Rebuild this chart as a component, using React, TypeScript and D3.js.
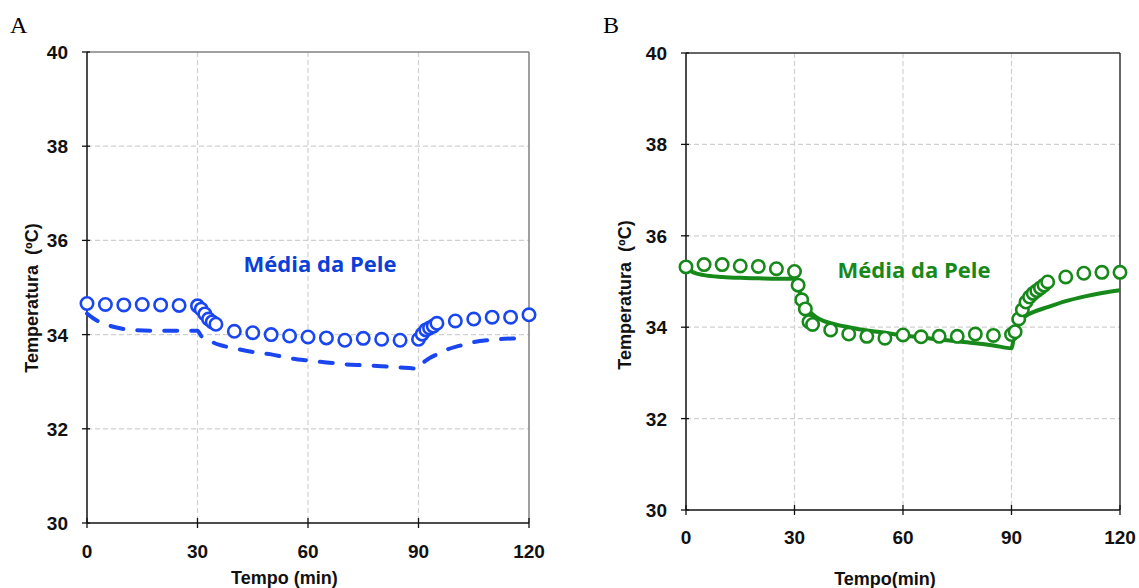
import React from "react";
import * as d3 from "d3";

// ---------- data ----------
const xTicks = [0, 30, 60, 90, 120];
const yTicks = [30, 32, 34, 36, 38, 40];
const panelLabels = ["A", "B"];
const noteText = "Média da Pele";
const xTitleA = "Tempo (min)";
const xTitleB = "Tempo(min)";
const yTitle = "Temperatura\u00a0\u00a0(ºC)";

// Panel A – measured (circles) and simulated (dashed)
const timeMeasA = [0, 5, 10, 15, 20, 25, 30, 31, 32, 33, 34, 35, 40, 45, 50, 55, 60, 65, 70, 75, 80, 85, 90, 91, 92, 93, 94, 95, 100, 105, 110, 115, 120];
const tempMeasA = [34.66, 34.64, 34.63, 34.64, 34.63, 34.62, 34.61, 34.54, 34.44, 34.33, 34.27, 34.22, 34.07, 34.04, 34.0, 33.97, 33.95, 33.93, 33.88, 33.92, 33.9, 33.88, 33.9, 34.01, 34.1, 34.14, 34.18, 34.24, 34.29, 34.33, 34.37, 34.37, 34.42];
const timeSimA = [0, 2, 4, 8, 12, 20, 30, 31, 33, 36, 40, 45, 50, 55, 60, 65, 70, 75, 80, 85, 90, 91, 93, 95, 98, 101, 105, 110, 116, 119];
const tempSimA = [34.45, 34.33, 34.25, 34.15, 34.1, 34.08, 34.08, 33.97, 33.88, 33.78, 33.71, 33.63, 33.58, 33.5, 33.45, 33.41, 33.37, 33.35, 33.33, 33.3, 33.28, 33.38, 33.5, 33.58, 33.69, 33.76, 33.84, 33.89, 33.92, 33.93];

// Panel B – measured (circles) and simulated (solid)
const timeMeasB = [0, 5, 10, 15, 20, 25, 30, 31, 32, 33, 34, 35, 40, 45, 50, 55, 60, 65, 70, 75, 80, 85, 90, 91, 92, 93, 94, 95, 96, 97, 98, 99, 100, 105, 110, 115, 120];
const tempMeasB = [35.32, 35.37, 35.37, 35.34, 35.33, 35.28, 35.22, 34.92, 34.6, 34.4, 34.12, 34.06, 33.94, 33.85, 33.8, 33.76, 33.83, 33.79, 33.8, 33.8, 33.85, 33.82, 33.84, 33.9, 34.18, 34.38, 34.55, 34.66, 34.74, 34.8, 34.86, 34.92, 34.99, 35.1, 35.18, 35.2, 35.2];
const timeSimB = [0, 2, 5, 10, 15, 20, 25, 30, 31, 32, 33, 34, 36, 38, 40, 45, 50, 55, 60, 65, 70, 75, 80, 85, 90, 91, 92, 94, 96, 100, 105, 110, 115, 120];
const tempSimB = [35.3, 35.2, 35.14, 35.1, 35.08, 35.07, 35.06, 35.06, 34.88, 34.65, 34.45, 34.35, 34.22, 34.14, 34.09, 34.0, 33.93, 33.88, 33.82, 33.78, 33.73, 33.69, 33.65, 33.6, 33.54, 33.98, 34.12, 34.25, 34.33, 34.44, 34.57, 34.67, 34.75, 34.81];

type Pt = { t: number; v: number };
const zip = (ts: number[], vs: number[]): Pt[] => ts.map((t, i) => ({ t, v: vs[i] }));

type PanelCfg = {
  label: string;
  labelX: number;
  left: number;
  right: number;
  top: number;
  bottom: number;
  color: string;
  textColor: string;
  frameColor: string;
  meas: Pt[];
  sim: Pt[];
  dashed: boolean;
  noteX: number;
  noteY: number;
  xTitle: string;
  xTitleX: number;
  xTitleY: number;
  xTitleAnchor: "start" | "middle";
  xLabelY: number;
  yTitleX: number;
  yTitleY: number;
};

const FONT = "'Liberation Sans', Arial, sans-serif";

function Panel({ c }: { c: PanelCfg }) {
  const x = d3.scaleLinear().domain([0, 120]).range([c.left, c.right]);
  const y = d3.scaleLinear().domain([30, 40]).range([c.bottom, c.top]);
  const line = d3
    .line<Pt>()
    .x((d) => x(d.t))
    .y((d) => y(d.v))
    .curve(d3.curveMonotoneX);
  return (
    <g>
      <text x={c.labelX} y={33} fontFamily="'Liberation Serif', 'Times New Roman', serif" fontSize={24}>
        {c.label}
      </text>
      {/* grid */}
      {xTicks.filter((t) => t > 0 && t < 120).map((t) => (
        <line key={"gx" + t} x1={x(t)} x2={x(t)} y1={c.top} y2={c.bottom} stroke="#d0d0d0" strokeWidth={1.2} strokeDasharray="5 3" />
      ))}
      {yTicks.filter((v) => v > 30 && v < 40).map((v) => (
        <line key={"gy" + v} x1={c.left} x2={c.right} y1={y(v)} y2={y(v)} stroke="#d0d0d0" strokeWidth={1.2} strokeDasharray="5 3" />
      ))}
      {/* frame */}
      <line x1={c.left} x2={c.right} y1={c.top} y2={c.top} stroke={c.frameColor} strokeWidth={1.5} />
      <line x1={c.right} x2={c.right} y1={c.top} y2={c.bottom} stroke={c.frameColor} strokeWidth={1.5} />
      <line x1={c.left} x2={c.right} y1={c.bottom} y2={c.bottom} stroke="#111" strokeWidth={1.5} />
      <line x1={c.left} x2={c.left} y1={c.top} y2={c.bottom} stroke="#111" strokeWidth={1.5} />
      {/* ticks */}
      {xTicks.map((t) => (
        <g key={"xt" + t}>
          <line x1={x(t)} x2={x(t)} y1={c.bottom - 5} y2={c.bottom + 5} stroke="#111" strokeWidth={1.3} />
          <text x={x(t)} y={c.xLabelY} textAnchor="middle" fontFamily={FONT} fontWeight="bold" fontSize={19} fill="#111">
            {t}
          </text>
        </g>
      ))}
      {yTicks.map((v) => (
        <g key={"yt" + v}>
          <line x1={c.left - 5} x2={c.left + 3} y1={y(v)} y2={y(v)} stroke="#111" strokeWidth={1.3} />
          <text x={c.left - 19} y={y(v) + 7} textAnchor="end" fontFamily={FONT} fontWeight="bold" fontSize={19} fill="#111">
            {v}
          </text>
        </g>
      ))}
      {/* axis titles */}
      <text x={c.xTitleX} y={c.xTitleY} textAnchor={c.xTitleAnchor} fontFamily={FONT} fontWeight="bold" fontSize={18} fill="#111">
        {c.xTitle}
      </text>
      <text
        transform={`translate(${c.yTitleX},${c.yTitleY}) rotate(-90)`}
        textAnchor="middle"
        fontFamily={FONT}
        fontWeight="bold"
        fontSize={18}
        fill="#111"
      >
        {yTitle}
      </text>
      {/* simulated line */}
      <path
        d={line(c.sim) || ""}
        fill="none"
        stroke={c.color}
        strokeWidth={4}
        strokeDasharray={c.dashed ? "13 14" : undefined}
        strokeLinecap={c.dashed ? "round" : "butt"}
      />
      {/* measured circles */}
      {c.meas.map((d, i) => (
        <circle key={i} cx={x(d.t)} cy={y(d.v)} r={6.2} fill="#fff" stroke={c.color} strokeWidth={2.6} />
      ))}
      <text x={c.noteX} y={c.noteY} textAnchor="middle" fontFamily="'Open Sans', sans-serif" fontWeight="bold" fontSize={22} fill={c.textColor}>
        {noteText}
      </text>
    </g>
  );
}

const panels: PanelCfg[] = [
  {
    label: panelLabels[0],
    labelX: 10,
    left: 87,
    right: 529,
    top: 52,
    bottom: 523,
    color: "#1a46f0",
    textColor: "#0c3fd8",
    frameColor: "#808080",
    meas: zip(timeMeasA, tempMeasA),
    sim: zip(timeSimA, tempSimA),
    dashed: true,
    noteX: 320,
    noteY: 272,
    xTitle: xTitleA,
    xTitleX: 231,
    xTitleY: 584,
    xTitleAnchor: "start",
    xLabelY: 558,
    yTitleX: 38,
    yTitleY: 298,
  },
  {
    label: panelLabels[1],
    labelX: 603,
    left: 686,
    right: 1120,
    top: 53,
    bottom: 510,
    color: "#17891a",
    textColor: "#17891a",
    frameColor: "#333",
    meas: zip(timeMeasB, tempMeasB),
    sim: zip(timeSimB, tempSimB),
    dashed: false,
    noteX: 914,
    noteY: 278,
    xTitle: xTitleB,
    xTitleX: 885,
    xTitleY: 585,
    xTitleAnchor: "middle",
    xLabelY: 544,
    yTitleX: 631,
    yTitleY: 295,
  },
];

export default function App() {
  return (
    <div style={{ position: "absolute", left: 0, top: 0 }}>
      <svg width={1139} height={588} style={{ display: "block", background: "#fff" }}>
        {panels.map((p) => (
          <Panel key={p.label} c={p} />
        ))}
      </svg>
    </div>
  );
}
